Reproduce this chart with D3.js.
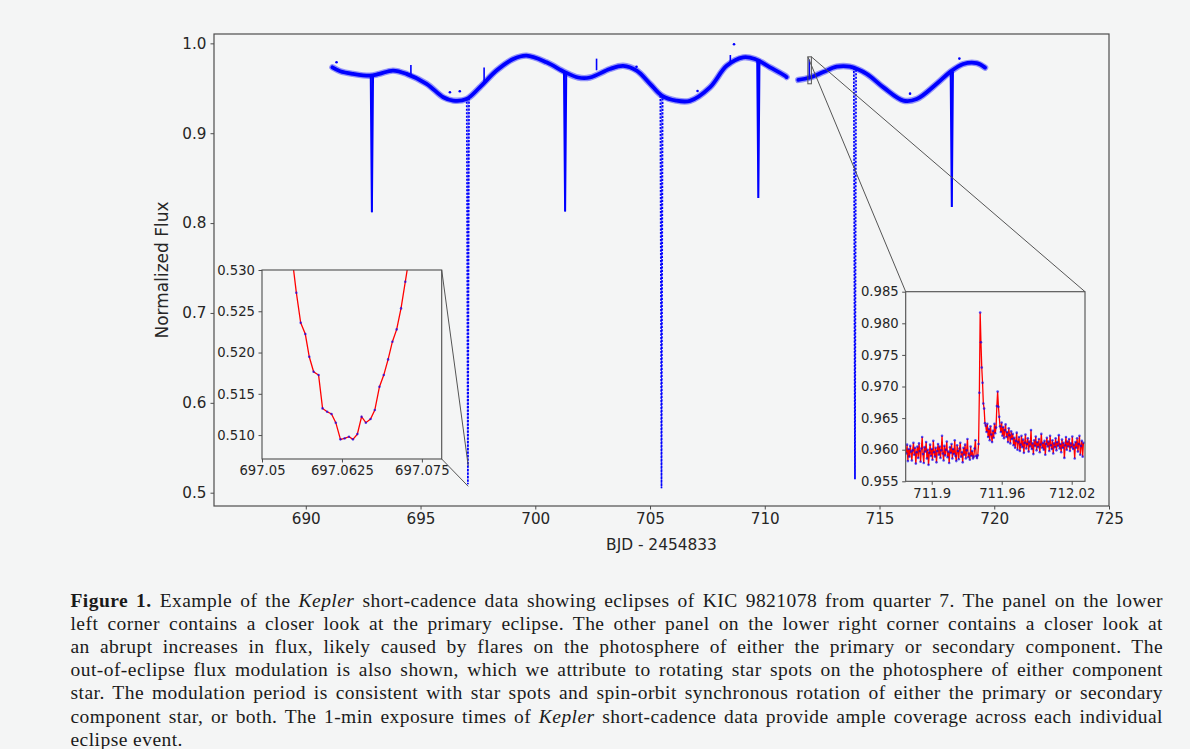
<!DOCTYPE html>
<html>
<head>
<meta charset="utf-8">
<script src="https://cdn.jsdelivr.net/npm/d3@7"></script>
<style>
    html, body { margin: 0; padding: 0; background: #f4f5f5; }
    #chart svg { display: block; }
</style>
</head>
<body>
<div id="chart"></div>
<script>
// light curve: BJD - 2454833 vs normalized flux
// first stretch, before the small data gap
var lcTimesA = [691.16, 691.50, 692.06, 692.79, 693.20, 693.80, 694.39, 695.26, 695.99, 696.42,
                697.00, 697.58, 698.31, 699.04, 699.62, 700.49, 701.29, 701.87, 702.38, 703.25,
                703.83, 704.42, 705.00, 705.51, 706.14, 706.74, 707.61, 708.34, 709.06, 709.57,
                710.23, 710.88, 710.95];
var lcFluxA = [0.9733, 0.9690, 0.9660, 0.9640, 0.9660, 0.9697, 0.9660, 0.9550, 0.9400, 0.9363,
               0.9380, 0.9510, 0.9697, 0.9826, 0.9863, 0.9789, 0.9680, 0.9620, 0.9620, 0.9715,
               0.9750, 0.9697, 0.9550, 0.9419, 0.9363, 0.9360, 0.9510, 0.9750, 0.9844, 0.9826,
               0.9733, 0.9640, 0.9625];
// second stretch
var lcTimesB = [711.46, 711.97, 712.55, 713.13, 713.71, 714.44, 715.17, 716.04, 716.62, 717.49,
                718.07, 718.65, 719.23, 719.60];
var lcFluxB = [0.9593, 0.9620, 0.9680, 0.9740, 0.9740, 0.9660, 0.9510, 0.9363, 0.9380, 0.9550,
               0.9680, 0.9770, 0.9780, 0.9730];

// eclipses: mid time, flux just outside eclipse, flux at minimum
var eclipseTimes = [692.88, 697.063, 701.30, 705.50, 709.72, 713.93, 718.15];
var eclipseTop   = [0.964, 0.939, 0.968, 0.942, 0.982, 0.973, 0.968];
var eclipseDepth = [0.812, 0.5095, 0.813, 0.505, 0.828, 0.515, 0.818];
var eclipseKind  = ["secondary", "primary", "secondary", "primary", "secondary", "primary", "secondary"];
var eclipseHalfDur = 0.05;

// short flares sticking out of the band
var spikeTimes = [694.58, 697.77, 702.67, 708.50, 711.94];
var spikeBase  = [0.966, 0.957, 0.970, 0.978, 0.960];
var spikePeak  = [0.976, 0.973, 0.983, 0.987, 0.982];

// stray single points
var strayTimes = [691.34, 696.28, 696.71, 704.41, 707.07, 708.66, 716.33, 718.48];
var strayFlux  = [0.979, 0.9456, 0.9467, 0.974, 0.947, 0.999, 0.944, 0.983];

// lower left panel: bottom of the primary eclipse
var leftTimes = [697.05469, 697.05537, 697.05605, 697.05677, 697.05739, 697.05807, 697.05885, 697.05947,
                 697.06019, 697.06087, 697.06154, 697.06227, 697.06293, 697.06360, 697.06422, 697.06491,
                 697.06557, 697.06624, 697.06697, 697.06764, 697.06837, 697.06904, 697.06972, 697.07039,
                 697.07106, 697.07174, 697.07241, 697.07307];
var leftFlux = [0.5316, 0.52725, 0.52361, 0.52224, 0.51949, 0.51767, 0.51727, 0.51323,
                0.51283, 0.51255, 0.51150, 0.50948, 0.50960, 0.50980, 0.50948, 0.51012,
                0.51222, 0.51150, 0.51194, 0.51303, 0.51586, 0.51727, 0.51917, 0.52131,
                0.52280, 0.52535, 0.52858, 0.53180];

// lower right panel: the flare, 1-min cadence starting at rightStart
var rightStart = 711.8782;
var rightCadence = 0.000681;
var rightFlux = [
    0.9594, 0.9608, 0.9582, 0.9601, 0.9589, 0.9606, 0.9597, 0.9583, 0.9599, 0.9611, 0.9592, 0.9603, 0.9578, 0.9596, 0.9605,
    0.9587, 0.9610, 0.9598, 0.9581, 0.9602, 0.9620, 0.9593, 0.9579, 0.9604, 0.9597, 0.9612, 0.9586, 0.9600, 0.9576, 0.9595,
    0.9608, 0.9590, 0.9601, 0.9584, 0.9614, 0.9596, 0.9589, 0.9603, 0.9580, 0.9598, 0.9609, 0.9592, 0.9605, 0.9587, 0.9599,
    0.9622, 0.9594, 0.9583, 0.9606, 0.9591, 0.9600, 0.9613, 0.9588, 0.9597, 0.9579, 0.9604, 0.9595, 0.9609, 0.9586, 0.9601,
    0.9593, 0.9615, 0.9590, 0.9582, 0.9607, 0.9598, 0.9585, 0.9602, 0.9611, 0.9589, 0.9596, 0.9580, 0.9603, 0.9592, 0.9608,
    0.9586, 0.9599, 0.9617, 0.9588, 0.9594, 0.9584, 0.9605, 0.9590, 0.9598, 0.9586, 0.9589, 0.9602, 0.9615, 0.9590, 0.9587,
    0.9591, 0.9609,
    0.9690, 0.9817, 0.9770, 0.9730, 0.9706, 0.9673, 0.9665, 0.9642, 0.9638, 0.9628, 0.9641, 0.9620, 0.9633, 0.9615, 0.9637,
    0.9624, 0.9612, 0.9630, 0.9619, 0.9641, 0.9626, 0.9635,
    0.9669, 0.9692, 0.9668, 0.9652, 0.9637, 0.9628, 0.9643, 0.9622, 0.9636, 0.9618, 0.9631, 0.9640, 0.9620, 0.9628, 0.9612,
    0.9634, 0.9623, 0.9610, 0.9629, 0.9617,
    0.9625, 0.9607, 0.9619, 0.9603, 0.9614, 0.9627, 0.9600, 0.9612, 0.9620, 0.9598, 0.9608, 0.9622, 0.9604, 0.9616, 0.9595,
    0.9611, 0.9624, 0.9602, 0.9609, 0.9618, 0.9597, 0.9613, 0.9605, 0.9631, 0.9601, 0.9610, 0.9593, 0.9615, 0.9606, 0.9621,
    0.9599, 0.9612, 0.9604, 0.9617, 0.9596, 0.9608, 0.9625, 0.9603, 0.9611, 0.9600, 0.9614, 0.9592, 0.9609, 0.9619, 0.9605,
    0.9613, 0.9598, 0.9622, 0.9607, 0.9601, 0.9615, 0.9594, 0.9610, 0.9604, 0.9618, 0.9599, 0.9612, 0.9606, 0.9623, 0.9602,
    0.9609, 0.9596, 0.9616, 0.9603, 0.9611, 0.9587, 0.9607, 0.9620, 0.9600, 0.9613, 0.9605, 0.9617, 0.9598, 0.9610, 0.9604,
    0.9621, 0.9601, 0.9608, 0.9586, 0.9612, 0.9603, 0.9618, 0.9597, 0.9609, 0.9622, 0.9592, 0.9606, 0.9614, 0.9589, 0.9611
];

// ticks
var mainXTicks = [690, 695, 700, 705, 710, 715, 720, 725];
var mainYTicks = [0.5, 0.6, 0.7, 0.8, 0.9, 1.0];
var leftXTicks = [697.05, 697.0625, 697.075];
var leftYTicks = [0.510, 0.515, 0.520, 0.525, 0.530];
var rightXTicks = [711.9, 711.96, 712.02];
var rightYTicks = [0.955, 0.960, 0.965, 0.970, 0.975, 0.980, 0.985];

var xLabel = "BJD - 2454833";
var yLabel = "Normalized Flux";

// caption, one entry per printed line; b = bold, i = italic
var captionLines = [
    [{t: "Figure 1.", b: true}, {t: " Example of the "}, {t: "Kepler", i: true},
     {t: " short-cadence data showing eclipses of KIC 9821078 from quarter 7. The panel on the lower"}],
    [{t: "left corner contains a closer look at the primary eclipse. The other panel on the lower right corner contains a closer look at"}],
    [{t: "an abrupt increases in flux, likely caused by flares on the photosphere of either the primary or secondary component. The"}],
    [{t: "out-of-eclipse flux modulation is also shown, which we attribute to rotating star spots on the photosphere of either component"}],
    [{t: "star. The modulation period is consistent with star spots and spin-orbit synchronous rotation of either the primary or secondary"}],
    [{t: "component star, or both. The 1-min exposure times of "}, {t: "Kepler", i: true},
     {t: " short-cadence data provide ample coverage across each individual"}],
    [{t: "eclipse event."}]
];

var CHART = {

    selector: '#chart',

    options: {
        width: 1190,
        height: 749,
        main: {left: 214, top: 34, right: 1109, bottom: 506},
        xDomain: [686, 725],
        yDomain: [0.4852, 1.0104],
        leftInset: {left: 262, top: 270, right: 441.7, bottom: 459, x: [697.05, 697.0781], y: [0.5071, 0.530]},
        rightInset: {left: 905.7, top: 291.7, right: 1085, bottom: 481.3, x: [711.8777, 712.0314], y: [0.955, 0.985]},
        blue: '#0000ff',
        red: '#ff0000',
        frame: '#4d4d4d',
        text: '#262626',
        font: '"DejaVu Sans", sans-serif',
        serif: '"Liberation Serif", "DejaVu Serif", serif'
    },

    init: function() {
        var el = d3.select(this.selector);
        if (el.empty()) {
            console.warn('init(): no element for ' + this.selector);
            return;
        }
        this.svg = el.append('svg')
            .attr('xmlns', 'http://www.w3.org/2000/svg')
            .attr('width', this.options.width)
            .attr('height', this.options.height);

        this.svg.append('rect')
            .attr('width', this.options.width)
            .attr('height', this.options.height)
            .attr('fill', '#f4f5f5');

        this.drawMain();
        this.drawLeftInset();
        this.drawRightInset();
        this.drawCaption();
    },

    axisStyle: function(g, size) {
        var o = this.options;
        g.select('.domain').remove();
        g.selectAll('.tick line').attr('stroke', o.frame).attr('stroke-width', 1);
        g.selectAll('.tick text')
            .attr('fill', o.text)
            .style('font-family', o.font)
            .style('font-size', size + 'px');
    },

    drawMain: function() {
        var o = this.options, m = o.main;
        var x = d3.scaleLinear().domain(o.xDomain).range([m.left, m.right]);
        var y = d3.scaleLinear().domain(o.yDomain).range([m.bottom, m.top]);
        this.x = x;
        this.y = y;

        var g = this.svg.append('g').attr('class', 'main');

        g.append('defs').append('clipPath').attr('id', 'clipMain')
            .append('rect')
            .attr('x', m.left).attr('y', m.top)
            .attr('width', m.right - m.left).attr('height', m.bottom - m.top);

        var data = g.append('g').attr('clip-path', 'url(#clipMain)');

        var line = d3.line()
            .curve(d3.curveCatmullRom)
            .x(function(d) { return x(d[0]); })
            .y(function(d) { return y(d[1]); });

        var stretches = [d3.zip(lcTimesA, lcFluxA), d3.zip(lcTimesB, lcFluxB)];

        // fuzzy outer edge of the dense band, then its core
        data.selectAll('path.halo')
            .data(stretches)
            .enter().append('path')
            .attr('class', 'halo')
            .attr('d', line)
            .attr('fill', 'none')
            .attr('stroke', o.blue)
            .attr('stroke-opacity', 0.4)
            .attr('stroke-width', 6.4)
            .attr('stroke-linecap', 'round')
            .attr('stroke-linejoin', 'round');
        data.selectAll('path.band')
            .data(stretches)
            .enter().append('path')
            .attr('class', 'band')
            .attr('d', line)
            .attr('fill', 'none')
            .attr('stroke', o.blue)
            .attr('stroke-width', 3.8)
            .attr('stroke-linecap', 'round')
            .attr('stroke-linejoin', 'round');

        // eclipses: narrow V drops from the band
        var ecl = eclipseTimes.map(function(t, i) {
            return {t: t, top: eclipseTop[i], depth: eclipseDepth[i], kind: eclipseKind[i]};
        });
        var vline = d3.line()
            .x(function(d) { return x(d[0]); })
            .y(function(d) { return y(d[1]); });
        data.selectAll('path.eclipse')
            .data(ecl)
            .enter().append('path')
            .attr('class', 'eclipse')
            .attr('d', function(d) {
                return vline([[d.t - eclipseHalfDur, d.top], [d.t, d.depth], [d.t + eclipseHalfDur, d.top]]);
            })
            .attr('fill', 'none')
            .attr('stroke', o.blue)
            .attr('stroke-width', function(d) { return d.kind == 'primary' ? 1.7 : 2.0; })
            .attr('stroke-dasharray', function(d) { return d.kind == 'primary' ? '2.2,1.3' : null; });
        // thin core down the middle of every eclipse
        data.selectAll('line.eclcore')
            .data(ecl)
            .enter().append('line')
            .attr('class', 'eclcore')
            .attr('x1', function(d) { return x(d.t); })
            .attr('x2', function(d) { return x(d.t); })
            .attr('y1', function(d) { return y(d.top); })
            .attr('y2', function(d) { return y(d.depth); })
            .attr('stroke', o.blue)
            .attr('stroke-width', function(d) { return d.kind == 'primary' ? 1 : 1.2; })
            .attr('stroke-opacity', function(d) { return d.kind == 'primary' ? 0.45 : 1; });

        data.selectAll('line.spike')
            .data(spikeTimes)
            .enter().append('line')
            .attr('class', 'spike')
            .attr('x1', function(d) { return x(d); })
            .attr('x2', function(d) { return x(d); })
            .attr('y1', function(d, i) { return y(spikeBase[i]); })
            .attr('y2', function(d, i) { return y(spikePeak[i]); })
            .attr('stroke', o.blue)
            .attr('stroke-width', 1.6);

        data.selectAll('circle.stray')
            .data(strayTimes)
            .enter().append('circle')
            .attr('class', 'stray')
            .attr('cx', function(d) { return x(d); })
            .attr('cy', function(d, i) { return y(strayFlux[i]); })
            .attr('r', 1.3)
            .attr('fill', o.blue);

        // frame
        g.append('rect')
            .attr('x', m.left).attr('y', m.top)
            .attr('width', m.right - m.left).attr('height', m.bottom - m.top)
            .attr('fill', 'none')
            .attr('stroke', o.frame)
            .attr('stroke-width', 1.2);

        var ax = g.append('g')
            .attr('transform', 'translate(0,' + m.bottom + ')')
            .call(d3.axisBottom(x).tickValues(mainXTicks).tickSize(3.5).tickPadding(4)
                  .tickFormat(d3.format('d')));
        this.axisStyle(ax, 15.2);

        var ay = g.append('g')
            .attr('transform', 'translate(' + m.left + ',0)')
            .call(d3.axisLeft(y).tickValues(mainYTicks).tickSize(3.5).tickPadding(4)
                  .tickFormat(d3.format('.1f')));
        this.axisStyle(ay, 15.2);

        g.append('text')
            .attr('x', (m.left + m.right) / 2)
            .attr('y', 550)
            .attr('text-anchor', 'middle')
            .attr('fill', o.text)
            .style('font-family', o.font)
            .style('font-size', '15.4px')
            .text(xLabel);

        g.append('text')
            .attr('transform', 'translate(168,' + (m.top + m.bottom) / 2 + ') rotate(-90)')
            .attr('text-anchor', 'middle')
            .attr('fill', o.text)
            .style('font-family', o.font)
            .style('font-size', '17px')
            .text(yLabel);
    },

    // one zoomed panel with the red line and blue points
    drawInset: function(id, box, times, flux, xTicks, yTicks) {
        var o = this.options;
        var x = d3.scaleLinear().domain(box.x).range([box.left, box.right]);
        var y = d3.scaleLinear().domain(box.y).range([box.bottom, box.top]);
        var g = this.svg.append('g').attr('class', id);

        g.append('rect')
            .attr('x', box.left).attr('y', box.top)
            .attr('width', box.right - box.left).attr('height', box.bottom - box.top)
            .attr('fill', '#f4f5f5');

        g.append('defs').append('clipPath').attr('id', 'clip_' + id)
            .append('rect')
            .attr('x', box.left).attr('y', box.top)
            .attr('width', box.right - box.left).attr('height', box.bottom - box.top);

        var pts = d3.zip(times, flux);
        var data = g.append('g').attr('clip-path', 'url(#clip_' + id + ')');
        data.append('path')
            .attr('d', d3.line().x(function(d) { return x(d[0]); }).y(function(d) { return y(d[1]); })(pts))
            .attr('fill', 'none')
            .attr('stroke', o.red)
            .attr('stroke-width', 1.3);
        data.selectAll('circle')
            .data(pts)
            .enter().append('circle')
            .attr('cx', function(d) { return x(d[0]); })
            .attr('cy', function(d) { return y(d[1]); })
            .attr('r', 1.3)
            .attr('fill', o.blue)
            .attr('fill-opacity', 0.65);

        g.append('rect')
            .attr('x', box.left).attr('y', box.top)
            .attr('width', box.right - box.left).attr('height', box.bottom - box.top)
            .attr('fill', 'none')
            .attr('stroke', o.frame)
            .attr('stroke-width', 1.1);

        var ax = g.append('g')
            .attr('transform', 'translate(0,' + box.bottom + ')')
            .call(d3.axisBottom(x).tickValues(xTicks).tickSize(3.5).tickPadding(3.5)
                  .tickFormat(function(d) { return String(d); }));
        this.axisStyle(ax, 13.2);
        var ay = g.append('g')
            .attr('transform', 'translate(' + box.left + ',0)')
            .call(d3.axisLeft(y).tickValues(yTicks).tickSize(3.5).tickPadding(3.5)
                  .tickFormat(d3.format('.3f')));
        this.axisStyle(ay, 13.2);
    },

    connector: function(x1, y1, x2, y2) {
        this.svg.append('line')
            .attr('x1', x1).attr('y1', y1)
            .attr('x2', x2).attr('y2', y2)
            .attr('stroke', '#555')
            .attr('stroke-width', 1);
    },

    drawLeftInset: function() {
        var b = this.options.leftInset, x = this.x, y = this.y;
        this.drawInset('leftInset', b, leftTimes, leftFlux, leftXTicks, leftYTicks);
        this.connector(b.right, b.top, x(b.x[1]), y(b.y[1]));
        this.connector(b.right, b.bottom, x(b.x[1]), y(b.y[0]));
    },

    drawRightInset: function() {
        var b = this.options.rightInset, x = this.x, y = this.y;
        var times = rightFlux.map(function(f, i) { return rightStart + i * rightCadence; });
        this.drawInset('rightInset', b, times, rightFlux, rightXTicks, rightYTicks);
        // box marking the zoomed region on the main panel
        this.svg.append('rect')
            .attr('x', x(b.x[0])).attr('y', y(b.y[1]))
            .attr('width', x(b.x[1]) - x(b.x[0]))
            .attr('height', y(b.y[0]) - y(b.y[1]))
            .attr('fill', 'none')
            .attr('stroke', '#555')
            .attr('stroke-width', 1);
        this.connector(x(b.x[0]), y(b.y[1]), b.left, b.top);
        this.connector(x(b.x[1]), y(b.y[1]), b.right, b.top);
    },

    // justified caption: a little letter spacing, the rest goes between words
    drawCaption: function() {
        var o = this.options;
        var left = 70.5, width = 1092.5, top = 606.5, lead = 23.2;
        var cap = this.svg.append('g').attr('class', 'caption');
        captionLines.forEach(function(parts, i) {
            var t = cap.append('text')
                .attr('x', left)
                .attr('y', top + i * lead)
                .attr('fill', '#1a1a1a')
                .attr('letter-spacing', '0.45px')
                .style('font-family', o.serif)
                .style('font-size', '19.5px');
            parts.forEach(function(p) {
                t.append('tspan')
                    .attr('font-weight', p.b ? 'bold' : null)
                    .attr('font-style', p.i ? 'italic' : null)
                    .text(p.t);
            });
            if (i < captionLines.length - 1) {
                var natural = t.node().getComputedTextLength();
                var gaps = parts.map(function(p) { return p.t; }).join('').split(' ').length - 1;
                t.attr('word-spacing', Math.max(0, (width - natural) / gaps) + 'px');
            }
        });
    }
};

CHART.init();
</script>
</body>
</html>
